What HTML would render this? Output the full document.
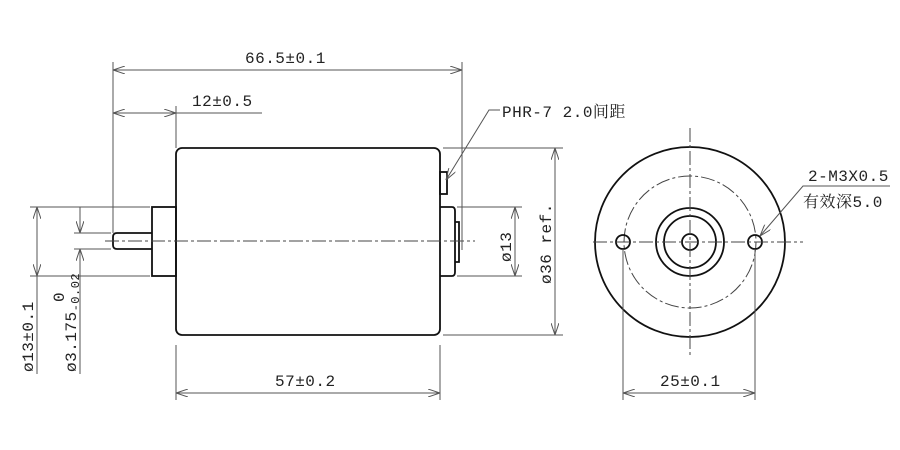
<!DOCTYPE html>
<html><head><meta charset="utf-8"><style>
html,body{margin:0;padding:0;background:#fff}
svg{display:block}
text{font-family:"Liberation Mono","Noto Serif CJK SC",monospace;font-size:16px;fill:#222;letter-spacing:0.5px}
.d{stroke:#555;stroke-width:1;fill:none}
.o{stroke:#111;stroke-width:1.8;fill:none}
.c{stroke:#444;stroke-width:1;fill:none;stroke-dasharray:14 3 3 3}
</style></head><body>
<svg width="900" height="450" viewBox="0 0 900 450" xmlns="http://www.w3.org/2000/svg">
<defs>
<marker id="a" markerWidth="12" markerHeight="8" refX="12" refY="4" orient="auto-start-reverse" markerUnits="userSpaceOnUse">
<path d="M0,0 L12,4 L0,8" fill="none" stroke="#555" stroke-width="1"/></marker>
</defs>
<rect class="o" x="176" y="148" width="264" height="187" rx="6"/>
<rect class="o" x="152" y="207" width="24" height="69"/>
<path class="o" d="M152,233 H117 Q113,233 113,237 V245 Q113,249 117,249 H152"/>
<path class="o" d="M440,207 H452 Q455,207 455,211 V272 Q455,276 452,276 H440"/>
<path class="o" d="M455,222 H459 V262 H455"/>
<rect class="o" x="440" y="172" width="7" height="22"/>
<line class="c" x1="105" y1="241" x2="475" y2="241"/>
<line class="d" x1="113" y1="62" x2="113" y2="233"/>
<line class="d" x1="462" y1="62" x2="462" y2="250"/>
<line class="d" x1="113" y1="70" x2="462" y2="70" marker-start="url(#a)" marker-end="url(#a)"/>
<text x="245" y="63">66.5±0.1</text>
<line class="d" x1="176" y1="106" x2="176" y2="148"/>
<line class="d" x1="113" y1="113" x2="176" y2="113" marker-start="url(#a)" marker-end="url(#a)"/>
<line class="d" x1="176" y1="113" x2="262" y2="113"/>
<text x="192" y="106">12±0.5</text>
<polyline class="d" points="500,110 489,110 446,180" marker-end="url(#a)"/>
<text x="502" y="117">PHR-7 2.0间距</text>
<line class="d" x1="176" y1="345" x2="176" y2="400"/>
<line class="d" x1="440" y1="345" x2="440" y2="400"/>
<line class="d" x1="176" y1="393" x2="440" y2="393" marker-start="url(#a)" marker-end="url(#a)"/>
<text x="275" y="386">57±0.2</text>
<line class="d" x1="30" y1="207" x2="150" y2="207"/>
<line class="d" x1="30" y1="276" x2="150" y2="276"/>
<line class="d" x1="37" y1="207" x2="37" y2="276" marker-start="url(#a)" marker-end="url(#a)"/>
<line class="d" x1="37" y1="276" x2="37" y2="374"/>
<line class="d" x1="74" y1="233" x2="111" y2="233"/>
<line class="d" x1="74" y1="249" x2="111" y2="249"/>
<line class="d" x1="80" y1="207" x2="80" y2="233" marker-end="url(#a)"/>
<line class="d" x1="80" y1="374" x2="80" y2="249" marker-end="url(#a)"/>
<text transform="translate(33,372) rotate(-90)">ø13±0.1</text>
<text transform="translate(76,372) rotate(-90)">ø3.175<tspan font-size="12" dy="3">-0.02</tspan></text>
<text transform="translate(64,302) rotate(-90)" font-size="12">0</text>
<line class="d" x1="457" y1="207" x2="522" y2="207"/>
<line class="d" x1="457" y1="276" x2="522" y2="276"/>
<line class="d" x1="515" y1="207" x2="515" y2="276" marker-start="url(#a)" marker-end="url(#a)"/>
<text transform="translate(511,262) rotate(-90)">ø13</text>
<line class="d" x1="443" y1="148" x2="563" y2="148"/>
<line class="d" x1="443" y1="335" x2="563" y2="335"/>
<line class="d" x1="555" y1="148" x2="555" y2="335" marker-start="url(#a)" marker-end="url(#a)"/>
<text transform="translate(551,284) rotate(-90)">ø36 ref.</text>
<circle class="o" cx="690" cy="242" r="95"/>
<circle class="c" cx="690" cy="242" r="66" stroke-dasharray="12 3 3 3"/>
<circle class="o" cx="690" cy="242" r="34"/>
<circle class="o" cx="690" cy="242" r="26"/>
<circle class="o" cx="690" cy="242" r="8"/>
<circle class="o" cx="623" cy="242" r="7"/>
<circle class="o" cx="755" cy="242" r="7"/>
<line class="c" x1="593" y1="242" x2="803" y2="242"/>
<line class="c" x1="690" y1="128" x2="690" y2="356"/>
<line class="d" x1="623" y1="249" x2="623" y2="400"/>
<line class="d" x1="755" y1="249" x2="755" y2="400"/>
<line class="d" x1="623" y1="393" x2="755" y2="393" marker-start="url(#a)" marker-end="url(#a)"/>
<text x="660" y="386">25±0.1</text>
<polyline class="d" points="890,186 803,186 760,236" marker-end="url(#a)"/>
<text x="808" y="181">2-M3X0.5</text>
<text x="803" y="207">有效深5.0</text>
</svg>
</body></html>
